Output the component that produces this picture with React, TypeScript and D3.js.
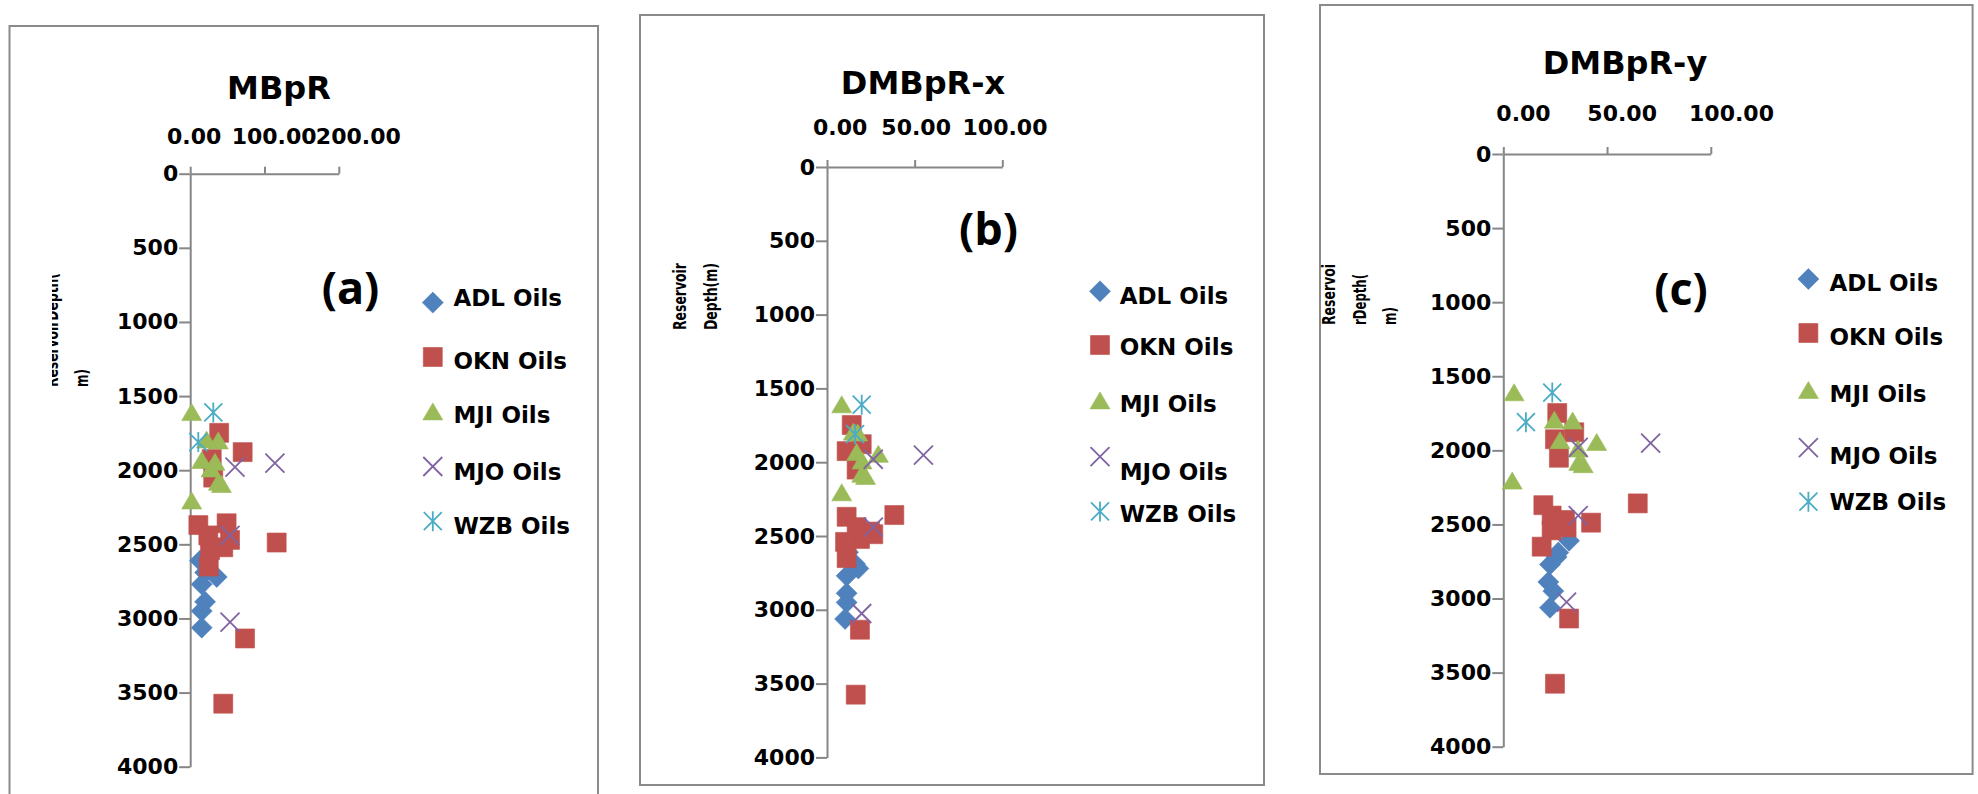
import * as d3 from "d3";
import { useEffect, useRef } from "react";

// series
const seriesNames = ["ADL Oils", "OKN Oils", "MJI Oils", "MJO Oils", "WZB Oils"];
const seriesColors = ["#4F81BD", "#C0504D", "#9BBB59", "#8064A2", "#4BACC6"];
const seriesShapes = ["diamond", "square", "triangle", "x", "star"];

// reservoir depth (m) and the three ratios for each oil family
const adlDepth = [2610, 2690, 2720, 2770, 2888, 2950, 3062];
const adlMBpR = [13.2, 20, 35.7, 15.5, 20, 15.5, 15.5];
const adlDMBpRx = [12, 16, 17.9, 11.2, 11.2, 11.2, 10.3];
const adlDMBpRy = [31.7, 26.5, 25.7, 22.5, 21.7, 24.1, 22.5];

const oknDepth = [1748, 1878, 1925, 2050, 2358, 2370, 2440, 2470, 2488, 2520, 2540, 2650, 3135, 3575];
const oknMBpR = [39, 70.6, 29, 31, 49, 11, 24.4, 53.6, 116.4, 44.5, 26.6, 25, 73.8, 44.5];
const oknDMBpRx = [14.1, 19.8, 11.2, 16.9, 38.4, 11.2, 16.9, 24.5, 26.4, 18.8, 10.3, 11.2, 18.8, 16.4];
const oknDMBpRy = [26, 34.2, 24.9, 26.8, 64.8, 19.3, 23.3, 29.7, 42.3, 30.5, 23.3, 18.5, 31.7, 24.9];

const mjiDepth = [1615, 1800, 1806, 1938, 1950, 1995, 2085, 2100, 2211];
const mjiMBpR = [2, 22, 37.8, 15.5, 33.4, 28, 38, 42, 2];
const mjiDMBpRx = [8.4, 15, 17.5, 16.9, 29.3, 20, 19.8, 22, 8.4];
const mjiDMBpRy = [5.2, 24.6, 33.4, 27.3, 45, 36, 36.3, 38.5, 4.3];

const mjoDepth = [1952, 1980, 2440, 3025];
const mjoMBpR = [114, 60.3, 53.6, 53.6];
const mjoDMBpRx = [55, 26.4, 26.4, 19.8];
const mjoDMBpRy = [71, 36.1, 36.1, 30.5];

const wzbDepth = [1610, 1810];
const wzbMBpR = [31.1, 10.9];
const wzbDMBpRx = [19.8, 16];
const wzbDMBpRy = [23.6, 10.9];

const depthTicks = [0, 500, 1000, 1500, 2000, 2500, 3000, 3500, 4000];
const mbprTicks = [0, 100, 200];
const dmbprTicks = [0, 50, 100];

const panelTitles = ["MBpR", "DMBpR-x", "DMBpR-y"];
const panelLetters = ["(a)", "(b)", "(c)"];
const yTitleLines = [["ReservoirDepth(", "m)"], ["Reservoir", "Depth(m)"], ["Reservoi", "rDepth(", "m)"]];

const depths = [adlDepth, oknDepth, mjiDepth, mjoDepth, wzbDepth];
const panelValues = [
  [adlMBpR, oknMBpR, mjiMBpR, mjoMBpR, wzbMBpR],
  [adlDMBpRx, oknDMBpRx, mjiDMBpRx, mjoDMBpRx, wzbDMBpRx],
  [adlDMBpRy, oknDMBpRy, mjiDMBpRy, mjoDMBpRy, wzbDMBpRy],
];
const panelXTicks = [mbprTicks, dmbprTicks, dmbprTicks];

// layout (pixels)
const layouts = [
  {
    box: [9.5, 26, 598, 820],
    plot: [190.2, 338.8, 173.7, 766.7],
    title: [279, 98.7],
    tickGap: 30,
    labelShift: [3.4, 9.1, 19],
    letter: [350.5, 303.6],
    legX: 432.8, legTextX: 453.4,
    legMarkY: [302.6, 357, 412.4, 466.5, 521.2],
    legTextY: [306, 369.4, 422.5, 479.7, 533.8],
    yTitleY: 387, yTitleX: [52, 82], yTitleLen: [114, 18], clipX: 52,
  },
  {
    box: [640, 15, 1264, 785],
    plot: [827, 1002.3, 167, 757.4],
    title: [923, 94.3],
    tickGap: 32,
    labelShift: [12.7, 1, 2.2],
    letter: [988.5, 245.3],
    legX: 1100, legTextX: 1119.7,
    legMarkY: [291.3, 345, 401.4, 456.6, 511.4],
    legTextY: [304, 355.3, 411.6, 479.7, 521.6],
    yTitleY: 330, yTitleX: [680.2, 710.5], yTitleLen: [67, 67], clipX: 0,
  },
  {
    box: [1320, 5, 1972.6, 774],
    plot: [1503.3, 1710.8, 154, 746.7],
    title: [1625, 74],
    tickGap: 33,
    labelShift: [19.7, 14.6, 20.2],
    letter: [1681, 304.7],
    legX: 1808.4, legTextX: 1829.5,
    legMarkY: [279, 333, 391, 447.7, 501.7],
    legTextY: [290.8, 344.8, 402.4, 464, 510.4],
    yTitleY: 325, yTitleX: [1328.5, 1360, 1389.6], yTitleLen: [61, 51, 18], clipX: 0,
  },
];

const FONT = "DejaVu Sans, Verdana, sans-serif";
const AXIS = "#868686";

function markerPath(shape) {
  switch (shape) {
    case "diamond": return "M0,-10.5L10.5,0L0,10.5L-10.5,0Z";
    case "square": return "M-9.5,-9.5H9.5V9.5H-9.5Z";
    case "triangle": return "M0,-9.5L10,7.5L-10,7.5Z";
    case "x": return "M-9.5,-9.5L9.5,9.5M-9.5,9.5L9.5,-9.5";
    default: return "M-9,-9L9,9M-9,9L9,-9M0,-10L0,10";
  }
}

function styleMarker(sel, i) {
  const stroked = seriesShapes[i] === "x" || seriesShapes[i] === "star";
  sel.attr("d", markerPath(seriesShapes[i]))
    .attr("fill", stroked ? "none" : seriesColors[i])
    .attr("stroke", seriesColors[i])
    .attr("stroke-width", stroked ? 1.8 : 0.6);
}

export default function App() {
  const ref = useRef(null);

  useEffect(() => {
    const svg = d3.select(ref.current);
    svg.selectAll("*").remove();
    svg.append("rect").attr("width", 1978).attr("height", 794).attr("fill", "#fff");

    layouts.forEach((L, p) => {
      const g = svg.append("g");
      const [bx0, by0, bx1, by1] = L.box;
      g.append("rect").attr("x", bx0).attr("y", by0).attr("width", bx1 - bx0).attr("height", by1 - by0)
        .attr("fill", "none").attr("stroke", "#8a8a8a").attr("stroke-width", 2);

      const ticks = panelXTicks[p];
      const x = d3.scaleLinear().domain([0, ticks[ticks.length - 1]]).range([L.plot[0], L.plot[1]]);
      const y = d3.scaleLinear().domain([0, 4000]).range([L.plot[2], L.plot[3]]);

      // title
      g.append("text").attr("x", L.title[0]).attr("y", L.title[1]).attr("text-anchor", "middle")
        .attr("font-family", FONT).attr("font-weight", "bold").attr("font-size", 32).text(panelTitles[p]);

      // depth axis
      const ya = g.append("g").attr("transform", `translate(${L.plot[0]},0)`)
        .call(d3.axisLeft(y).tickValues(depthTicks).tickFormat(d3.format("d")).tickSizeInner(11).tickSizeOuter(0).tickPadding(1));
      ya.selectAll("path,line").attr("stroke", AXIS).attr("stroke-width", 2);
      ya.selectAll("text").attr("font-family", FONT).attr("font-weight", "bold").attr("font-size", 22).attr("fill", "#000");

      // ratio axis on top
      const xa = g.append("g").attr("transform", `translate(0,${L.plot[2]})`)
        .call(d3.axisTop(x).tickValues(ticks).tickFormat(d3.format(".2f")).tickSizeInner(7).tickSizeOuter(0).tickPadding(L.tickGap - 7));
      xa.selectAll("path,line").attr("stroke", AXIS).attr("stroke-width", 2);
      xa.selectAll("text").attr("font-family", FONT).attr("font-weight", "bold").attr("font-size", 22).attr("fill", "#000")
        .attr("dx", (d, i) => L.labelShift[i]);

      // points
      depths.forEach((ds, s) => {
        const vals = panelValues[p][s];
        g.append("g").selectAll("path").data(ds.map((d, i) => [vals[i], d])).join("path")
          .attr("transform", d => `translate(${x(d[0])},${y(d[1])})`)
          .call(sel => styleMarker(sel, s));
      });

      // panel letter
      g.append("text").attr("x", L.letter[0]).attr("y", L.letter[1]).attr("text-anchor", "middle")
        .attr("font-family", "Open Sans, sans-serif").attr("font-weight", "bold").attr("font-size", 45).text(panelLetters[p]);

      // legend
      seriesNames.forEach((name, s) => {
        g.append("path").attr("transform", `translate(${L.legX},${L.legMarkY[s]})`).call(sel => styleMarker(sel, s));
        g.append("text").attr("x", L.legTextX).attr("y", L.legTextY[s])
          .attr("font-family", FONT).attr("font-weight", "bold").attr("font-size", 23).text(name);
      });

      // depth axis title
      const tg = g.append("g");
      if (L.clipX) {
        const id = `clip${p}`;
        svg.append("clipPath").attr("id", id).append("rect").attr("x", L.clipX).attr("y", 0).attr("width", 300).attr("height", 794);
        tg.attr("clip-path", `url(#${id})`);
      }
      yTitleLines[p].forEach((line, k) => {
        tg.append("text").attr("transform", `translate(${L.yTitleX[k]},${L.yTitleY}) rotate(-90)`)
          .attr("dominant-baseline", "central").attr("font-family", FONT).attr("font-weight", "bold")
          .attr("font-size", 17).attr("textLength", L.yTitleLen[k]).attr("lengthAdjust", "spacingAndGlyphs")
          .text(line);
      });
    });
  }, []);

  return (
    <svg ref={ref} width={1978} height={794} style={{ position: "absolute", left: 0, top: 0 }}></svg>
  );
}
